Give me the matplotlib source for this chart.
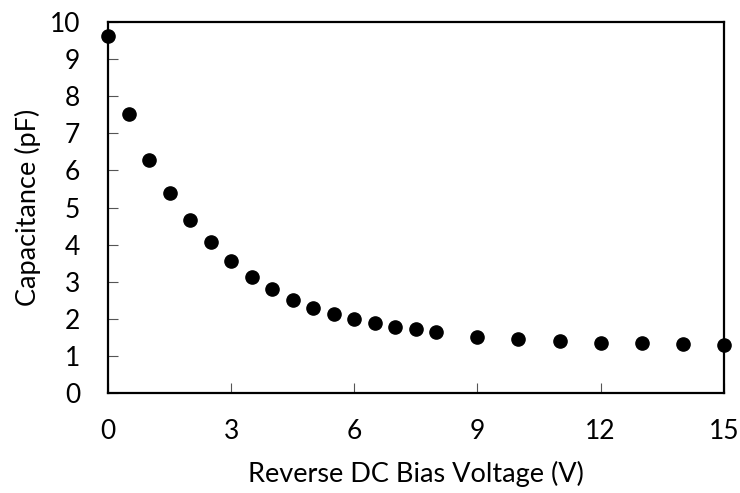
import numpy as np
import matplotlib.pyplot as plt

plt.rcParams['font.family'] = ['Lato', 'DejaVu Sans']

# Reverse bias sweep
voltage = [0, 0.5, 1, 1.5, 2, 2.5, 3, 3.5, 4, 4.5, 5, 5.5, 6, 6.5, 7, 7.5, 8,
           9, 10, 11, 12, 13, 14, 15]
capacitance = [9.63, 7.52, 6.27, 5.38, 4.66, 4.08, 3.57, 3.14, 2.79, 2.51, 2.30,
               2.14, 2.00, 1.88, 1.78, 1.72, 1.63, 1.52, 1.45, 1.41, 1.36, 1.34,
               1.32, 1.30]

fig = plt.figure(figsize=(7.4, 4.93), dpi=100)
ax = fig.add_axes([0.146, 0.203, 0.832, 0.752])

ax.plot(voltage, capacitance, 'o', color='black', markersize=9.5, clip_on=False, zorder=5)

ax.set_xlim(0, 15)
ax.set_ylim(0, 10)
ax.set_xticks(np.arange(0, 16, 3))
ax.set_yticks(np.arange(0, 11, 1))
ax.tick_params(direction='in', length=7, width=0.8, color='#555555',
               labelsize=19)
ax.tick_params(axis='x', pad=19)
ax.tick_params(axis='y', pad=20)
for s in ax.spines.values():
    s.set_linewidth(1.6)

ax.set_xlabel('Reverse DC Bias Voltage (V)', fontsize=19.5, labelpad=12)
ax.set_ylabel('Capacitance (pF)', fontsize=19.5, labelpad=6)

fig.savefig('out.png', dpi=100)
